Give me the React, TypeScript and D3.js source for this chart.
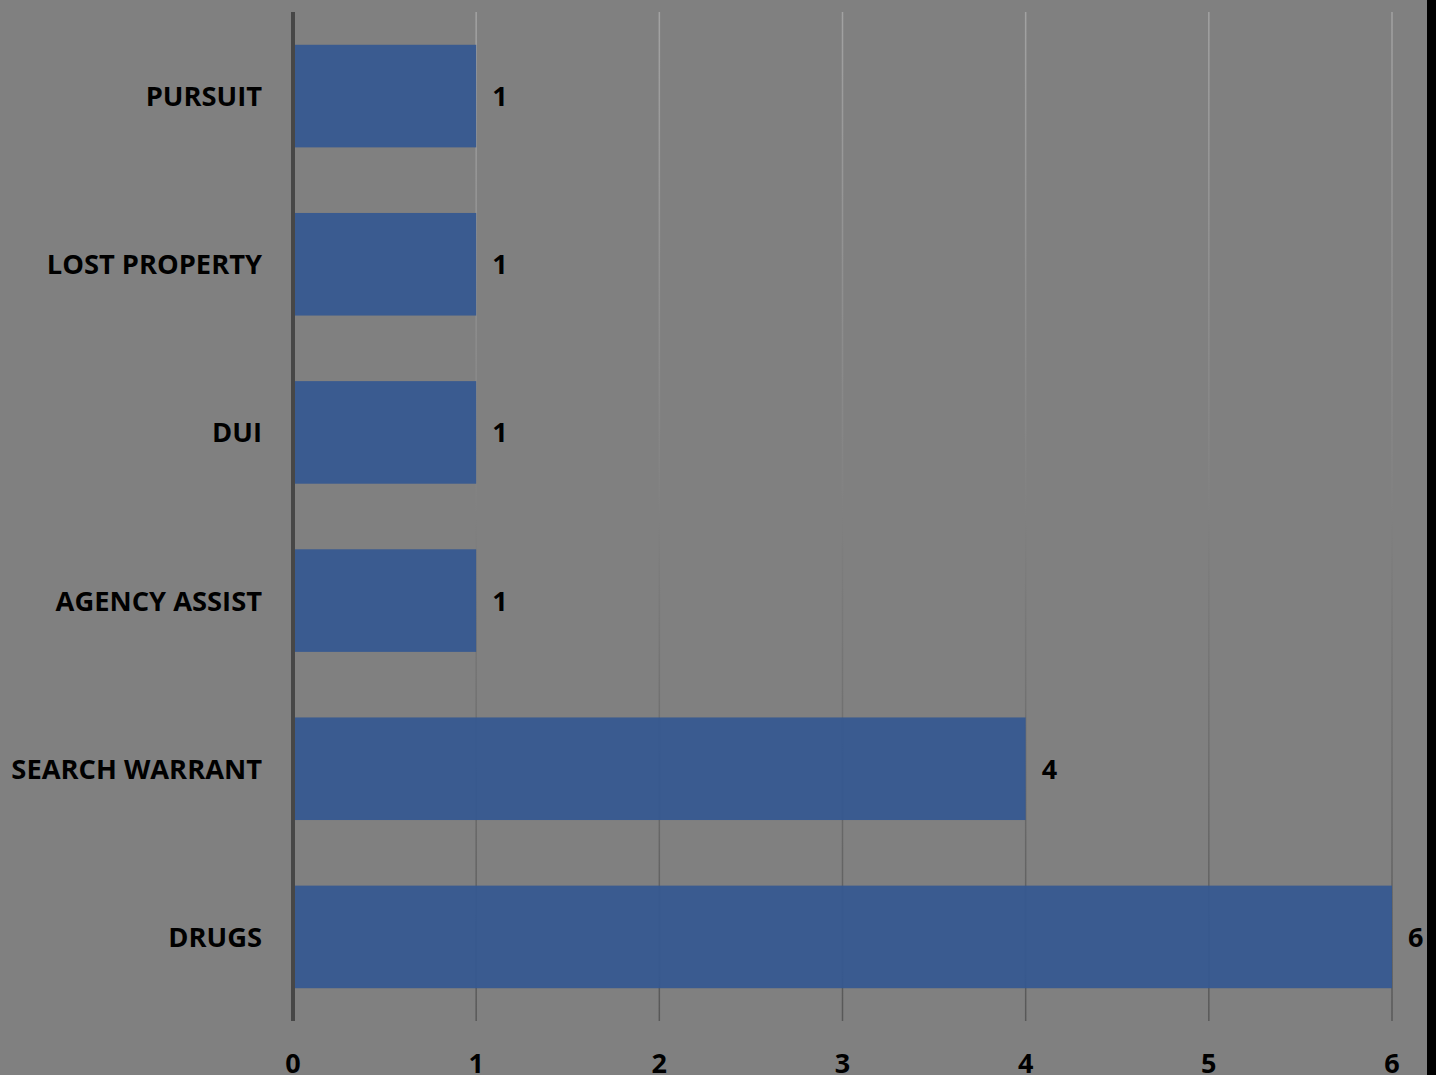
import React, { useRef, useEffect } from 'react';
import * as d3 from 'd3';

const categories = ['PURSUIT', 'LOST PROPERTY', 'DUI', 'AGENCY ASSIST', 'SEARCH WARRANT', 'DRUGS'];
const counts = [1, 1, 1, 1, 4, 6];
const xTicks = [0, 1, 2, 3, 4, 5, 6];

const W = 1436;
const H = 1075;
const FONT = '"Open Sans", "Liberation Sans", sans-serif';

const App: React.FC = () => {
  const ref = useRef<SVGSVGElement | null>(null);

  useEffect(() => {
    if (!ref.current) return;
    const svg = d3.select(ref.current);
    svg.selectAll('*').remove();

    const left = 293;
    const top = 12;
    const bottom = 1021;

    const x = d3.scaleLinear().domain([0, 6]).range([left, 1392]);
    const y = d3.scaleBand().domain(categories).range([top, bottom]).paddingInner(0.39).paddingOuter(0.195);

    svg.append('rect').attr('width', W).attr('height', H).attr('fill', '#808080');

    const defs = svg.append('defs');
    const grad = defs.append('linearGradient')
      .attr('id', 'gridGrad')
      .attr('gradientUnits', 'userSpaceOnUse')
      .attr('x1', 0).attr('y1', top).attr('x2', 0).attr('y2', bottom);
    grad.append('stop').attr('offset', '0%').attr('stop-color', '#a2a2a2');
    grad.append('stop').attr('offset', '45%').attr('stop-color', '#848484');
    grad.append('stop').attr('offset', '100%').attr('stop-color', '#585858');

    // gridlines
    svg.append('g')
      .selectAll('line')
      .data(xTicks.slice(1))
      .join('line')
      .attr('x1', d => x(d)).attr('x2', d => x(d))
      .attr('y1', top).attr('y2', bottom)
      .attr('stroke', 'url(#gridGrad)')
      .attr('stroke-width', 1.5);

    // bars
    svg.append('g')
      .selectAll('rect')
      .data(categories)
      .join('rect')
      .attr('x', x(0) + 2)
      .attr('y', d => y(d)!)
      .attr('width', (d, i) => x(counts[i]) - x(0) - 2)
      .attr('height', y.bandwidth())
      .attr('fill', '#365990')
      .attr('fill-opacity', 0.95);

    // value labels
    svg.append('g')
      .selectAll('text')
      .data(categories)
      .join('text')
      .attr('x', (d, i) => x(counts[i]) + 16)
      .attr('y', d => y(d)! + y.bandwidth() / 2 + 10)
      .attr('font-family', FONT)
      .attr('font-weight', 700)
      .attr('font-size', 27)
      .attr('fill', '#000')
      .text((d, i) => counts[i]);

    // category labels
    svg.append('g')
      .selectAll('text')
      .data(categories)
      .join('text')
      .attr('x', 262)
      .attr('y', d => y(d)! + y.bandwidth() / 2 + 10)
      .attr('text-anchor', 'end')
      .attr('font-family', FONT)
      .attr('font-weight', 700)
      .attr('font-size', 27.3)
      .attr('fill', '#000')
      .text(d => d);

    // axis line
    svg.append('line')
      .attr('x1', left).attr('x2', left)
      .attr('y1', top).attr('y2', bottom)
      .attr('stroke', '#474747')
      .attr('stroke-width', 4);

    // x tick labels (clipped at bottom edge as in the original)
    svg.append('g')
      .selectAll('text')
      .data(xTicks)
      .join('text')
      .attr('x', d => x(d))
      .attr('y', 1073)
      .attr('text-anchor', 'middle')
      .attr('font-family', FONT)
      .attr('font-weight', 700)
      .attr('font-size', 27)
      .attr('fill', '#000')
      .text(d => d);

    // right border
    svg.append('rect').attr('x', 1427).attr('y', 0).attr('width', 9).attr('height', H).attr('fill', '#000');
  }, []);

  return (
    <div style={{ position: 'absolute', left: 0, top: 0 }}>
      <svg ref={ref} width={W} height={H} style={{ display: 'block' }} />
    </div>
  );
};

export default App;
